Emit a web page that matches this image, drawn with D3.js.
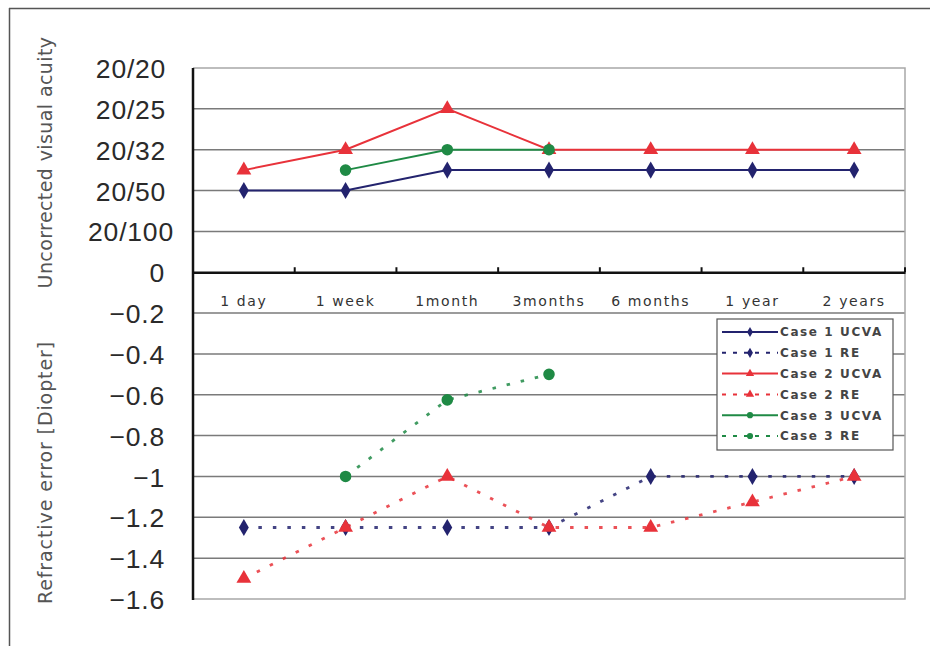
<!DOCTYPE html>
<html>
<head>
<meta charset="utf-8">
<script src="https://cdn.jsdelivr.net/npm/d3@7"></script>
<style>
  html, body { margin: 0; padding: 0; background: #fff; }
  svg { display: block; }
</style>
</head>
<body>
<svg id="chart" width="930" height="646"></svg>
<script>
// ---- data ----
const categories = ["1 day", "1 week", "1month", "3months", "6 months", "1 year", "2 years"];
const case1UCVA = [0.4, 0.4, 0.5, 0.5, 0.5, 0.5, 0.5];
const case1RE   = [-1.25, -1.25, -1.25, -1.25, -1, -1, -1];
const case2UCVA = [0.5, 0.6, 0.8, 0.6, 0.6, 0.6, 0.6];
const case2RE   = [-1.5, -1.25, -1, -1.25, -1.25, -1.125, -1];
const case3UCVA = [null, 0.5, 0.6, 0.6, null, null, null];
const case3RE   = [null, -1, -0.625, -0.5, null, null, null];
const yTickValues = [1.0, 0.8, 0.6, 0.4, 0.2, 0, -0.2, -0.4, -0.6, -0.8, -1.0, -1.2, -1.4, -1.6];
const yTickLabels = ["20/20", "20/25", "20/32", "20/50", "20/100", "0", "\u22120.2", "\u22120.4", "\u22120.6", "\u22120.8", "\u22121", "\u22121.2", "\u22121.4", "\u22121.6"];
const seriesNames = ["Case 1 UCVA", "Case 1 RE", "Case 2 UCVA", "Case 2 RE", "Case 3 UCVA", "Case 3 RE"];

const navy = "#23236e", red = "#e8323a", green = "#1f8a45";
const series = [
  { name: seriesNames[0], values: case1UCVA, color: navy,  dashed: false, shape: "diamond" },
  { name: seriesNames[1], values: case1RE,   color: navy,  dashed: true,  shape: "diamond" },
  { name: seriesNames[2], values: case2UCVA, color: red,   dashed: false, shape: "triangle" },
  { name: seriesNames[3], values: case2RE,   color: red,   dashed: true,  shape: "triangle" },
  { name: seriesNames[4], values: case3UCVA, color: green, dashed: false, shape: "circle" },
  { name: seriesNames[5], values: case3RE,   color: green, dashed: true,  shape: "circle" }
];

// ---- layout ----
const svg = d3.select("#chart");
const L = 193, R = 905, T = 68, B = 599;

// outer frame (top and left only)
svg.append("line").attr("x1", 9).attr("x2", 930).attr("y1", 8.5).attr("y2", 8.5).attr("stroke", "#555").attr("stroke-width", 1.5);
svg.append("line").attr("x1", 9.5).attr("x2", 9.5).attr("y1", 8).attr("y2", 646).attr("stroke", "#555").attr("stroke-width", 1.5);

const x = d3.scaleBand().domain(categories).range([L, R]).padding(0);
const cx = d => x(d) + x.bandwidth() / 2;
const y = d3.scaleLinear().domain([-1.6, 1.0]).range([B, T]);

// gridlines
svg.append("g").selectAll("line")
  .data(yTickValues.filter(v => v !== 0 && v !== 1.0 && v !== -1.6))
  .join("line")
  .attr("x1", L).attr("x2", R)
  .attr("y1", d => y(d)).attr("y2", d => y(d))
  .attr("stroke", "#7a7a7a").attr("stroke-width", 1.5);

// plot border (top, right, bottom) light gray
svg.append("path")
  .attr("d", `M${L},${y(1.0)}H${R}V${y(-1.6)}H${L}`)
  .attr("fill", "none").attr("stroke", "#a8a8a8").attr("stroke-width", 1.5);

// y axis labels
const yAxis = d3.axisLeft(y).tickValues(yTickValues).tickSize(0)
  .tickFormat((d, i) => yTickLabels[i]);
const yg = svg.append("g").attr("transform", `translate(${L},0)`).call(yAxis);
yg.select(".domain").remove();
yg.selectAll("text")
  .attr("font-family", "Liberation Sans, Arial, sans-serif")
  .attr("font-size", 26.5)
  .attr("letter-spacing", 0.8)
  .attr("fill", "#2a2a2a")
  .attr("dy", "0.36em")
  .each(function(d) {
    const t = d3.select(this);
    if (d > 0) { t.attr("text-anchor", "middle").attr("x", 131 - L); }
    else { t.attr("text-anchor", "end").attr("x", 165 - L); }
  });

// left axis line
svg.append("line").attr("x1", L).attr("x2", L).attr("y1", T).attr("y2", B + 1)
  .attr("stroke", "#111").attr("stroke-width", 2.5);

// x axis at zero
const xAxis = d3.axisBottom(x).tickSize(0);
const xg = svg.append("g").attr("transform", `translate(0,${y(0)})`).call(xAxis);
xg.select(".domain").attr("stroke", "#111").attr("stroke-width", 2.5);
xg.selectAll("text")
  .attr("font-family", "DejaVu Sans, sans-serif")
  .attr("font-size", 14)
  .attr("letter-spacing", 1.6)
  .attr("fill", "#333")
  .attr("dy", 0)
  .attr("y", 34);
// ticks between categories (pointing up)
const boundaries = categories.slice(1).map(c => x(c)).concat([R]);
svg.append("g").selectAll("line").data(boundaries).join("line")
  .attr("x1", d => d).attr("x2", d => d)
  .attr("y1", y(0) - 5).attr("y2", y(0))
  .attr("stroke", "#111").attr("stroke-width", 2);

// axis titles
svg.append("text")
  .attr("transform", `translate(52,${(30 + 295) / 2}) rotate(-90)`)
  .attr("text-anchor", "middle")
  .attr("font-family", "DejaVu Sans, sans-serif")
  .attr("font-size", 19)
  .attr("letter-spacing", 0.4)
  .attr("fill", "#555")
  .text("Uncorrected visual acuity");
svg.append("text")
  .attr("transform", `translate(52,${(341 + 604) / 2}) rotate(-90)`)
  .attr("text-anchor", "middle")
  .attr("font-family", "DejaVu Sans, sans-serif")
  .attr("font-size", 19)
  .attr("letter-spacing", 0.9)
  .attr("fill", "#555")
  .text("Refractive error [Diopter]");

// marker helper
const symbolFor = shape => shape === "diamond" ? d3.symbolDiamond : shape === "triangle" ? d3.symbolTriangle : d3.symbolCircle;
const sizeFor = shape => shape === "diamond" ? 85 : shape === "triangle" ? 95 : 105;

// lines and markers
const line = d3.line()
  .defined(d => d.v !== null)
  .x(d => cx(d.c))
  .y(d => y(d.v));

series.forEach(s => {
  const pts = categories.map((c, i) => ({ c, v: s.values[i] }));
  svg.append("path")
    .datum(pts)
    .attr("d", line)
    .attr("fill", "none")
    .attr("stroke", s.color)
    .attr("stroke-width", s.dashed ? 2.8 : 2)
    .attr("stroke-dasharray", s.dashed ? "3.5,11" : null)
    .attr("opacity", s.dashed ? 0.85 : 1);
});
series.forEach(s => {
  const pts = categories.map((c, i) => ({ c, v: s.values[i] })).filter(d => d.v !== null);
  svg.append("g").selectAll("path").data(pts).join("path")
    .attr("d", d3.symbol().type(symbolFor(s.shape)).size(sizeFor(s.shape)))
    .attr("transform", d => `translate(${cx(d.c)},${y(d.v)})`)
    .attr("fill", s.color);
});

// legend
const lg = svg.append("g");
const lx = 717, ly = 319, lw = 176, lh = 131;
lg.append("rect").attr("x", lx).attr("y", ly).attr("width", lw).attr("height", lh)
  .attr("fill", "#fff").attr("stroke", "#555").attr("stroke-width", 1.2);
series.forEach((s, i) => {
  const yy = ly + 13 + i * 20.8;
  lg.append("line").attr("x1", lx + 5).attr("x2", lx + 61).attr("y1", yy).attr("y2", yy)
    .attr("stroke", s.color).attr("stroke-width", 2)
    .attr("stroke-dasharray", s.dashed ? "4,7" : null);
  lg.append("path")
    .attr("d", d3.symbol().type(symbolFor(s.shape)).size(30))
    .attr("transform", `translate(${lx + 33},${yy})`)
    .attr("fill", s.color);
  lg.append("text").attr("x", lx + 63).attr("y", yy).attr("dy", "0.36em")
    .attr("font-family", "DejaVu Sans, sans-serif")
    .attr("font-size", 12).attr("font-weight", "bold")
    .attr("letter-spacing", 1.6)
    .attr("fill", "#444")
    .text(s.name);
});
</script>
</body>
</html>
